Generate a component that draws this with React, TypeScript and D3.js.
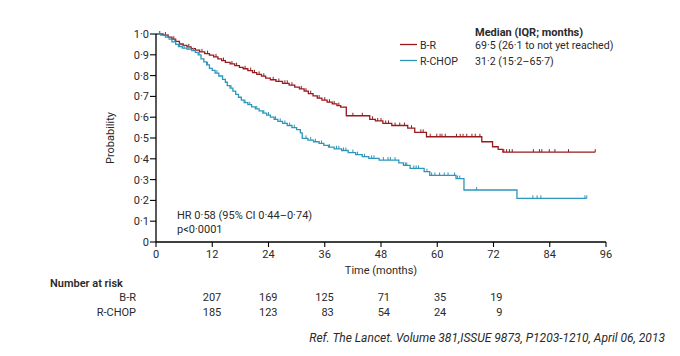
import React from "react";
import * as d3 from "d3";

// ---- Data ----
const xTicks = [0, 12, 24, 36, 48, 60, 72, 84, 96];
const yTicks = [0, 0.1, 0.2, 0.3, 0.4, 0.5, 0.6, 0.7, 0.8, 0.9, 1.0];

const brTimes = [0, 1.5, 2.6, 3.4, 4.2, 5.0, 5.8, 6.6, 7.5, 8.4, 9.3, 10.4, 11.4, 12.3, 13.2, 14.0, 14.8, 15.8, 16.8, 17.8, 18.6, 19.6, 20.6, 21.5, 22.5, 23.4, 24.4, 25.6, 27.0, 28.4, 29.6, 30.6, 31.6, 32.5, 33.5, 34.4, 35.4, 36.5, 37.6, 38.6, 39.4, 40.6, 45.6, 46.8, 48.4, 50.3, 53.7, 55.2, 57.7, 69.5, 71.8, 73.0, 74.0];
const brSurv = [1.0, 0.995, 0.985, 0.975, 0.965, 0.952, 0.945, 0.938, 0.93, 0.922, 0.914, 0.906, 0.898, 0.89, 0.88, 0.872, 0.864, 0.856, 0.848, 0.84, 0.833, 0.824, 0.814, 0.806, 0.797, 0.788, 0.78, 0.772, 0.763, 0.754, 0.745, 0.736, 0.725, 0.713, 0.703, 0.692, 0.682, 0.672, 0.664, 0.656, 0.648, 0.607, 0.59, 0.582, 0.57, 0.56, 0.547, 0.527, 0.506, 0.482, 0.458, 0.445, 0.432];
const brEnd = 93.7;
const brCensor = [0.8, 2, 3.8, 7, 9.8, 11, 12.8, 14.4, 16.2, 17.2, 19, 20.2, 21, 22, 23, 25, 26.2, 27.5, 28, 29, 31, 32, 33, 34.8, 36, 37, 38, 39, 42, 44, 46.2, 47.3, 48, 49, 49.6, 51, 52, 53, 54.5, 56.5, 57, 58.5, 59.9, 60.6, 61, 61.7, 64.1, 64.9, 65.5, 66.3, 67.4, 68.1, 69.1, 74.2, 74.8, 75.4, 76, 80.5, 81.8, 82.3, 83.9, 85.1, 88, 93.7];

const rcTimes = [0, 1.0, 2.0, 2.8, 3.4, 4.2, 4.8, 5.6, 6.6, 7.6, 8.4, 9.0, 9.6, 10.2, 10.8, 11.4, 12.0, 12.6, 13.4, 14.2, 14.8, 15.2, 15.8, 16.4, 17.0, 17.6, 18.2, 18.8, 19.6, 20.4, 21.2, 22.0, 22.8, 23.6, 24.4, 25.2, 26.0, 27.0, 28.0, 29.0, 30.0, 30.8, 31.2, 32.4, 33.6, 34.8, 35.8, 36.8, 38.0, 39.6, 41.0, 42.6, 44.0, 45.4, 47.6, 51.8, 52.8, 54.2, 57.2, 58.4, 64.0, 65.7, 77.0];
const rcSurv = [1.0, 0.995, 0.985, 0.975, 0.962, 0.95, 0.94, 0.932, 0.927, 0.92, 0.912, 0.9, 0.88, 0.866, 0.852, 0.835, 0.825, 0.812, 0.798, 0.782, 0.768, 0.752, 0.74, 0.725, 0.71, 0.696, 0.682, 0.67, 0.66, 0.65, 0.64, 0.63, 0.62, 0.61, 0.6, 0.59, 0.58, 0.57, 0.56, 0.55, 0.54, 0.525, 0.498, 0.49, 0.482, 0.474, 0.465, 0.456, 0.448, 0.44, 0.43, 0.42, 0.41, 0.402, 0.394, 0.38, 0.368, 0.354, 0.338, 0.32, 0.305, 0.25, 0.21];
const rcEnd = 91.9;
const rcCensor = [2.5, 4, 5, 6, 7, 8, 9.2, 11, 13, 16, 19, 20, 21.5, 23, 24, 25.5, 26.5, 27.5, 28.5, 29.5, 32, 33, 34, 35.3, 37, 38.5, 39, 40, 40.5, 42, 43, 44.5, 46, 46.5, 48.5, 49.5, 50, 51, 53.2, 53.5, 55, 55.5, 56, 57.8, 58.8, 59.5, 60.5, 61.5, 62.3, 63.7, 64.3, 64.8, 68.4, 80.4, 81.3, 82.1, 91.5, 91.9];

const riskTimes = [12, 24, 36, 48, 60, 72];
const riskBR = [207, 169, 125, 71, 35, 19];
const riskRC = [185, 123, 83, 54, 24, 9];

const seriesNames = ["B-R", "R-CHOP"];
const medians = ["69·5 (26·1 to not yet reached)", "31·2 (15·2–65·7)"];

const RED = "#981a1e";
const BLUE = "#2e96bb";
const TXT = "#2a2a2a";
const FONT = "Roboto, 'DejaVu Sans Condensed', sans-serif";

const fmt = (v: number) => (v === 0 ? "0" : v.toFixed(1).replace(".", "·"));

export default function App() {
  const W = 680, H = 356;
  const x = d3.scaleLinear().domain([0, 96]).range([156, 606]);
  const y = d3.scaleLinear().domain([0, 1]).range([242, 34]);

  const mk = (times: number[], surv: number[], end: number) => {
    const pts: [number, number][] = times.map((t, i) => [t, surv[i]]);
    pts.push([end, surv[surv.length - 1]]);
    return d3.line<[number, number]>().x(d => x(d[0])).y(d => y(d[1])).curve(d3.curveStepAfter)(pts) || "";
  };
  const sAt = (times: number[], surv: number[], t: number) => {
    const i = d3.bisectRight(times, t) - 1;
    return surv[Math.max(0, i)];
  };

  const series = [
    { times: brTimes, surv: brSurv, end: brEnd, censor: brCensor, color: RED },
    { times: rcTimes, surv: rcSurv, end: rcEnd, censor: rcCensor, color: BLUE },
  ];

  return (
    <div style={{ position: "absolute", left: 0, top: 0 }}>
      <svg width={W} height={H} style={{ display: "block", background: "#fff" }} fontFamily={FONT}>
        {/* curves */}
        {series.map((s, k) => (
          <g key={k}>
            <path d={mk(s.times, s.surv, s.end)} fill="none" stroke={s.color} strokeWidth={1.3} />
            {s.censor.map((c, j) => {
              const yy = y(sAt(s.times, s.surv, c));
              return <line key={j} x1={x(c)} x2={x(c)} y1={yy} y2={yy - 3} stroke={s.color} strokeWidth={1} />;
            })}
          </g>
        ))}
        {/* y axis */}
        <line x1={x(0)} x2={x(0)} y1={y(0)} y2={y(1)} stroke="#000" strokeWidth={1.3} />
        {yTicks.map((t, i) => (
          <g key={i}>
            <line x1={x(0) - 6} x2={x(0)} y1={y(t)} y2={y(t)} stroke="#000" strokeWidth={1.1} />
            <text x={x(0) - 7} y={y(t) + 4} fontSize={11} textAnchor="end" fill={TXT}>{fmt(t)}</text>
          </g>
        ))}
        <text transform={`translate(114,${y(0.5)}) rotate(-90)`} fontSize={11} textAnchor="middle" fill={TXT}>Probability</text>
        {/* x axis */}
        <line x1={x(0)} x2={x(96)} y1={y(0)} y2={y(0)} stroke="#000" strokeWidth={1.3} />
        {xTicks.map((t, i) => (
          <g key={i}>
            <line x1={x(t)} x2={x(t)} y1={y(0)} y2={y(0) + 5} stroke="#000" strokeWidth={1.1} />
            <text x={x(t)} y={y(0) + 16} fontSize={11} textAnchor="middle" fill={TXT}>{t}</text>
          </g>
        ))}
        <text x={x(48)} y={274} fontSize={11} textAnchor="middle" fill={TXT}>Time (months)</text>
        {/* legend */}
        <text x={475} y={36} fontSize={11} fontWeight="bold" fill={TXT}>Median (IQR; months)</text>
        {seriesNames.map((n, i) => (
          <g key={i}>
            <line x1={400} x2={417} y1={44.5 + i * 16} y2={44.5 + i * 16} stroke={series[i].color} strokeWidth={1.3} />
            <text x={420} y={48.8 + i * 16} fontSize={10.6} fill={TXT}>{n}</text>
            <text x={475} y={48.8 + i * 16} fontSize={10.6} fill={TXT}>{medians[i]}</text>
          </g>
        ))}
        {/* stats */}
        <text x={177} y={219} fontSize={11} fill={TXT}>HR 0·58 (95% CI 0·44–0·74)</text>
        <text x={177} y={233} fontSize={11} fill={TXT}>p&lt;0·0001</text>
        {/* number at risk */}
        <text x={50} y={287} fontSize={11} fontWeight={600} fill={TXT}>Number at risk</text>
        <text x={136} y={301} fontSize={11} textAnchor="end" fill={TXT}>{seriesNames[0]}</text>
        <text x={136} y={316} fontSize={11} textAnchor="end" fill={TXT}>{seriesNames[1]}</text>
        {riskTimes.map((t, i) => (
          <g key={i}>
            <text x={x(t) + 9} y={301} fontSize={11} textAnchor="end" fill={TXT}>{riskBR[i]}</text>
            <text x={x(t) + 9} y={316} fontSize={11} textAnchor="end" fill={TXT}>{riskRC[i]}</text>
          </g>
        ))}
        <text x={665} y={342} fontSize={12} fontStyle="italic" textAnchor="end" fill={TXT}>Ref. The Lancet. Volume 381,ISSUE 9873, P1203-1210, April 06, 2013</text>
      </svg>
    </div>
  );
}
